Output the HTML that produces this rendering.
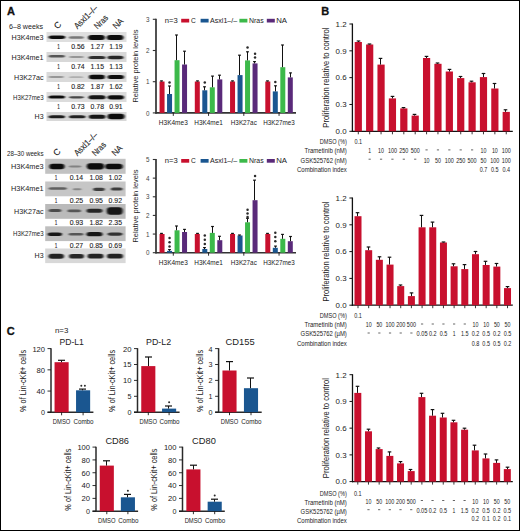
<!DOCTYPE html><html><head><meta charset="utf-8"><style>
html,body{margin:0;padding:0;background:#fff;}
body{width:520px;height:531px;overflow:hidden;}
svg{display:block;font-family:"Liberation Sans", sans-serif;}
</style></head><body>
<svg width="520" height="531" viewBox="0 0 520 531" fill="#222">
<defs>
<filter id="bl" x="-20%" y="-100%" width="140%" height="300%"><feGaussianBlur stdDeviation="0.9 0.7"/></filter>
</defs>
<rect x="0" y="0" width="520" height="531" fill="#fff"/>
<text x="7" y="15.1" font-size="11" font-weight="bold" fill="#111" stroke="#111" stroke-width="0.3">A</text>
<text x="321.2" y="15.1" font-size="11" font-weight="bold" fill="#111" stroke="#111" stroke-width="0.3">B</text>
<text x="6.8" y="334.8" font-size="11" font-weight="bold" fill="#111" stroke="#111" stroke-width="0.3">C</text>
<text x="9" y="28.7" font-size="7.9" textLength="34" lengthAdjust="spacingAndGlyphs">6–8 weeks</text>
<text x="57.6" y="29.6" font-size="8.8" textLength="6.3" lengthAdjust="spacingAndGlyphs" transform="rotate(-45 57.6 29.6)" stroke="#2a2a2a" stroke-width="0.12">C</text>
<text x="77.4" y="29.6" font-size="8.8" textLength="29.6" lengthAdjust="spacingAndGlyphs" transform="rotate(-45 77.4 29.6)" stroke="#2a2a2a" stroke-width="0.12">Asxl1–/–</text>
<text x="97.6" y="29.6" font-size="8.8" textLength="15.8" lengthAdjust="spacingAndGlyphs" transform="rotate(-45 97.6 29.6)" stroke="#2a2a2a" stroke-width="0.12">Nras</text>
<text x="116.2" y="29.6" font-size="8.8" textLength="11.2" lengthAdjust="spacingAndGlyphs" transform="rotate(-45 116.2 29.6)" stroke="#2a2a2a" stroke-width="0.12">NA</text>
<rect x="46.5" y="32" width="80" height="10" fill="#dfdfdf"/>
<text x="43.6" y="39.9" font-size="7.5" text-anchor="end" textLength="32" lengthAdjust="spacingAndGlyphs">H3K4me3</text>
<rect x="48.5" y="35.6" width="16.8" height="3.4" rx="3.5" ry="1.7" fill="rgb(15,15,15)" filter="url(#bl)"/>
<rect x="68.7" y="36.2" width="15.2" height="2.6" rx="3.24" ry="1.3" fill="rgb(120,120,120)" filter="url(#bl)"/>
<rect x="88.1" y="34.9" width="16.8" height="5" rx="3.5" ry="2.5" fill="rgb(8,8,8)" filter="url(#bl)"/>
<rect x="106.7" y="34.9" width="16.8" height="5" rx="3.5" ry="2.5" fill="rgb(8,8,8)" filter="url(#bl)"/>
<text x="58.6" y="49.4" font-size="7.5" text-anchor="middle" textLength="2.6" lengthAdjust="spacingAndGlyphs" stroke="#2a2a2a" stroke-width="0.12">1</text>
<text x="78" y="49.4" font-size="7.5" text-anchor="middle" textLength="13.4" lengthAdjust="spacingAndGlyphs" stroke="#2a2a2a" stroke-width="0.12">0.56</text>
<text x="97.3" y="49.4" font-size="7.5" text-anchor="middle" textLength="13.4" lengthAdjust="spacingAndGlyphs" stroke="#2a2a2a" stroke-width="0.12">1.27</text>
<text x="115.9" y="49.4" font-size="7.5" text-anchor="middle" textLength="13.4" lengthAdjust="spacingAndGlyphs" stroke="#2a2a2a" stroke-width="0.12">1.19</text>
<rect x="46.5" y="52" width="80" height="10" fill="#d8d8d8"/>
<text x="43.6" y="59.9" font-size="7.5" text-anchor="end" textLength="32" lengthAdjust="spacingAndGlyphs">H3K4me1</text>
<rect x="48.5" y="55.1" width="16.5" height="2.4" rx="3.5" ry="1.2" fill="rgb(85,85,85)" filter="url(#bl)"/>
<rect x="69" y="56" width="15" height="2" rx="3.2" ry="1" fill="rgb(150,150,150)" filter="url(#bl)"/>
<rect x="88.5" y="55.9" width="17" height="3" rx="3.5" ry="1.5" fill="rgb(45,45,45)" filter="url(#bl)"/>
<rect x="107.5" y="55.8" width="16" height="3.4" rx="3.4" ry="1.7" fill="rgb(40,40,40)" filter="url(#bl)"/>
<text x="58.6" y="69.4" font-size="7.5" text-anchor="middle" textLength="2.6" lengthAdjust="spacingAndGlyphs" stroke="#2a2a2a" stroke-width="0.12">1</text>
<text x="78" y="69.4" font-size="7.5" text-anchor="middle" textLength="13.4" lengthAdjust="spacingAndGlyphs" stroke="#2a2a2a" stroke-width="0.12">0.74</text>
<text x="97.3" y="69.4" font-size="7.5" text-anchor="middle" textLength="13.4" lengthAdjust="spacingAndGlyphs" stroke="#2a2a2a" stroke-width="0.12">1.15</text>
<text x="115.9" y="69.4" font-size="7.5" text-anchor="middle" textLength="13.4" lengthAdjust="spacingAndGlyphs" stroke="#2a2a2a" stroke-width="0.12">1.13</text>
<rect x="46.5" y="72" width="80" height="10" fill="#dadada"/>
<text x="43.6" y="79.5" font-size="7.5" text-anchor="end" textLength="29.5" lengthAdjust="spacingAndGlyphs">H3K27ac</text>
<rect x="48.5" y="76.1" width="15.5" height="1.8" rx="3.3" ry="0.9" fill="rgb(150,150,150)" filter="url(#bl)"/>
<rect x="69" y="76.3" width="14.5" height="1.8" rx="3.1" ry="0.9" fill="rgb(175,175,175)" filter="url(#bl)"/>
<rect x="88.9" y="74.8" width="16" height="4.4" rx="3.4" ry="2.2" fill="rgb(10,10,10)" filter="url(#bl)"/>
<rect x="107.5" y="75" width="16.5" height="4" rx="3.5" ry="2" fill="rgb(15,15,15)" filter="url(#bl)"/>
<text x="58.6" y="89.4" font-size="7.5" text-anchor="middle" textLength="2.6" lengthAdjust="spacingAndGlyphs" stroke="#2a2a2a" stroke-width="0.12">1</text>
<text x="78" y="89.4" font-size="7.5" text-anchor="middle" textLength="13.4" lengthAdjust="spacingAndGlyphs" stroke="#2a2a2a" stroke-width="0.12">0.82</text>
<text x="97.3" y="89.4" font-size="7.5" text-anchor="middle" textLength="13.4" lengthAdjust="spacingAndGlyphs" stroke="#2a2a2a" stroke-width="0.12">1.87</text>
<text x="115.9" y="89.4" font-size="7.5" text-anchor="middle" textLength="13.4" lengthAdjust="spacingAndGlyphs" stroke="#2a2a2a" stroke-width="0.12">1.62</text>
<rect x="46.5" y="92" width="80" height="10" fill="#dcdcdc"/>
<text x="43.6" y="99.8" font-size="7.5" text-anchor="end" textLength="30.5" lengthAdjust="spacingAndGlyphs">H3K27me3</text>
<rect x="48.5" y="95.5" width="16.5" height="3" rx="3.5" ry="1.5" fill="rgb(15,15,15)" filter="url(#bl)"/>
<rect x="69" y="96.2" width="15" height="2.2" rx="3.2" ry="1.1" fill="rgb(70,70,70)" filter="url(#bl)"/>
<rect x="88.5" y="95.3" width="17" height="4" rx="3.5" ry="2" fill="rgb(20,20,20)" filter="url(#bl)"/>
<rect x="107.5" y="95.2" width="16.5" height="4.2" rx="3.5" ry="2.1" fill="rgb(15,15,15)" filter="url(#bl)"/>
<text x="58.6" y="109.4" font-size="7.5" text-anchor="middle" textLength="2.6" lengthAdjust="spacingAndGlyphs" stroke="#2a2a2a" stroke-width="0.12">1</text>
<text x="78" y="109.4" font-size="7.5" text-anchor="middle" textLength="13.4" lengthAdjust="spacingAndGlyphs" stroke="#2a2a2a" stroke-width="0.12">0.73</text>
<text x="97.3" y="109.4" font-size="7.5" text-anchor="middle" textLength="13.4" lengthAdjust="spacingAndGlyphs" stroke="#2a2a2a" stroke-width="0.12">0.78</text>
<text x="115.9" y="109.4" font-size="7.5" text-anchor="middle" textLength="13.4" lengthAdjust="spacingAndGlyphs" stroke="#2a2a2a" stroke-width="0.12">0.91</text>
<rect x="46.5" y="112" width="80" height="9" fill="#d8d8d8"/>
<text x="43.6" y="118.9" font-size="7.5" text-anchor="end" textLength="9" lengthAdjust="spacingAndGlyphs">H3</text>
<rect x="48.5" y="115.2" width="16.5" height="3" rx="3.5" ry="1.5" fill="rgb(30,30,30)" filter="url(#bl)"/>
<rect x="69" y="115.3" width="16.5" height="3" rx="3.5" ry="1.5" fill="rgb(35,35,35)" filter="url(#bl)"/>
<rect x="88.8" y="114.7" width="16.7" height="4" rx="3.5" ry="2" fill="rgb(20,20,20)" filter="url(#bl)"/>
<rect x="107.5" y="113.7" width="17" height="5.6" rx="3.5" ry="2.8" fill="rgb(10,10,10)" filter="url(#bl)"/>
<text x="7" y="156" font-size="7" textLength="36.5" lengthAdjust="spacingAndGlyphs">28–30 weeks</text>
<text x="56.8" y="156.6" font-size="8.8" textLength="6.3" lengthAdjust="spacingAndGlyphs" transform="rotate(-45 56.8 156.6)" stroke="#2a2a2a" stroke-width="0.12">C</text>
<text x="77.4" y="156.6" font-size="8.8" textLength="29.6" lengthAdjust="spacingAndGlyphs" transform="rotate(-45 77.4 156.6)" stroke="#2a2a2a" stroke-width="0.12">Asxl1–/–</text>
<text x="95.4" y="156.6" font-size="8.8" textLength="15.8" lengthAdjust="spacingAndGlyphs" transform="rotate(-45 95.4 156.6)" stroke="#2a2a2a" stroke-width="0.12">Nras</text>
<text x="115.2" y="156.6" font-size="8.8" textLength="11.2" lengthAdjust="spacingAndGlyphs" transform="rotate(-45 115.2 156.6)" stroke="#2a2a2a" stroke-width="0.12">NA</text>
<rect x="45.2" y="158.8" width="80.4" height="15" fill="#c2c2c2"/>
<text x="43.6" y="168.7" font-size="7.5" text-anchor="end" textLength="32.5" lengthAdjust="spacingAndGlyphs">H3K4me3</text>
<rect x="49.3" y="163.7" width="15.2" height="5.6" rx="3.24" ry="2.8" fill="rgb(10,10,10)" filter="url(#bl)"/>
<rect x="68.7" y="165.6" width="12.8" height="2" rx="2.76" ry="1" fill="rgb(130,130,130)" filter="url(#bl)"/>
<rect x="86.8" y="163.2" width="17.3" height="6.2" rx="3.5" ry="3.1" fill="rgb(8,8,8)" filter="url(#bl)"/>
<rect x="105.1" y="163.8" width="17.6" height="5.4" rx="3.5" ry="2.7" fill="rgb(12,12,12)" filter="url(#bl)"/>
<text x="56" y="180.2" font-size="7.5" text-anchor="middle" textLength="2.6" lengthAdjust="spacingAndGlyphs" stroke="#2a2a2a" stroke-width="0.12">1</text>
<text x="76.4" y="180.2" font-size="7.5" text-anchor="middle" textLength="13.4" lengthAdjust="spacingAndGlyphs" stroke="#2a2a2a" stroke-width="0.12">0.14</text>
<text x="96.2" y="180.2" font-size="7.5" text-anchor="middle" textLength="13.4" lengthAdjust="spacingAndGlyphs" stroke="#2a2a2a" stroke-width="0.12">1.08</text>
<text x="115.3" y="180.2" font-size="7.5" text-anchor="middle" textLength="13.4" lengthAdjust="spacingAndGlyphs" stroke="#2a2a2a" stroke-width="0.12">1.02</text>
<rect x="45.2" y="181.5" width="80.4" height="14.8" fill="#c6c6c6"/>
<text x="43.6" y="191.4" font-size="7.5" text-anchor="end" textLength="32.5" lengthAdjust="spacingAndGlyphs">H3K4me1</text>
<rect x="48.5" y="187.2" width="18.4" height="2.6" rx="3.5" ry="1.3" fill="rgb(95,95,95)" filter="url(#bl)"/>
<rect x="72.8" y="188.2" width="8.7" height="2" rx="1.94" ry="1" fill="rgb(135,135,135)" filter="url(#bl)"/>
<rect x="93" y="187.7" width="11.9" height="3.2" rx="2.58" ry="1.6" fill="rgb(60,60,60)" filter="url(#bl)"/>
<rect x="110.7" y="187.4" width="12" height="3" rx="2.6" ry="1.5" fill="rgb(60,60,60)" filter="url(#bl)"/>
<text x="56" y="202.9" font-size="7.5" text-anchor="middle" textLength="2.6" lengthAdjust="spacingAndGlyphs" stroke="#2a2a2a" stroke-width="0.12">1</text>
<text x="76.4" y="202.9" font-size="7.5" text-anchor="middle" textLength="13.4" lengthAdjust="spacingAndGlyphs" stroke="#2a2a2a" stroke-width="0.12">0.25</text>
<text x="96.2" y="202.9" font-size="7.5" text-anchor="middle" textLength="13.4" lengthAdjust="spacingAndGlyphs" stroke="#2a2a2a" stroke-width="0.12">0.95</text>
<text x="115.3" y="202.9" font-size="7.5" text-anchor="middle" textLength="13.4" lengthAdjust="spacingAndGlyphs" stroke="#2a2a2a" stroke-width="0.12">0.92</text>
<rect x="45.2" y="204" width="80.4" height="14.8" fill="#bababa"/>
<text x="43.6" y="213.9" font-size="7.5" text-anchor="end" textLength="29.5" lengthAdjust="spacingAndGlyphs">H3K27ac</text>
<rect x="48.5" y="209.1" width="13" height="3" rx="2.8" ry="1.5" fill="rgb(75,75,75)" filter="url(#bl)"/>
<rect x="67.3" y="209.5" width="13.8" height="2.8" rx="2.96" ry="1.4" fill="rgb(85,85,85)" filter="url(#bl)"/>
<rect x="86.5" y="208.8" width="16" height="4" rx="3.4" ry="2" fill="rgb(40,40,40)" filter="url(#bl)"/>
<rect x="106.7" y="207.3" width="16" height="7.4" rx="3.4" ry="3.7" fill="rgb(20,20,20)" filter="url(#bl)"/>
<text x="56" y="225.4" font-size="7.5" text-anchor="middle" textLength="2.6" lengthAdjust="spacingAndGlyphs" stroke="#2a2a2a" stroke-width="0.12">1</text>
<text x="76.4" y="225.4" font-size="7.5" text-anchor="middle" textLength="13.4" lengthAdjust="spacingAndGlyphs" stroke="#2a2a2a" stroke-width="0.12">0.93</text>
<text x="96.2" y="225.4" font-size="7.5" text-anchor="middle" textLength="13.4" lengthAdjust="spacingAndGlyphs" stroke="#2a2a2a" stroke-width="0.12">1.82</text>
<text x="115.3" y="225.4" font-size="7.5" text-anchor="middle" textLength="13.4" lengthAdjust="spacingAndGlyphs" stroke="#2a2a2a" stroke-width="0.12">2.35</text>
<rect x="45.2" y="226.3" width="80.4" height="14.8" fill="#bfbfbf"/>
<text x="43.6" y="236.2" font-size="7.5" text-anchor="end" textLength="30.5" lengthAdjust="spacingAndGlyphs">H3K27me3</text>
<rect x="47.7" y="232.5" width="14.3" height="3.6" rx="3.06" ry="1.8" fill="rgb(22,22,22)" filter="url(#bl)"/>
<rect x="68.5" y="233.1" width="15" height="2.4" rx="3.2" ry="1.2" fill="rgb(85,85,85)" filter="url(#bl)"/>
<rect x="86.5" y="232.1" width="16" height="4.2" rx="3.4" ry="2.1" fill="rgb(25,25,25)" filter="url(#bl)"/>
<rect x="107.5" y="232.5" width="15" height="3.2" rx="3.2" ry="1.6" fill="rgb(50,50,50)" filter="url(#bl)"/>
<text x="56" y="247.7" font-size="7.5" text-anchor="middle" textLength="2.6" lengthAdjust="spacingAndGlyphs" stroke="#2a2a2a" stroke-width="0.12">1</text>
<text x="76.4" y="247.7" font-size="7.5" text-anchor="middle" textLength="13.4" lengthAdjust="spacingAndGlyphs" stroke="#2a2a2a" stroke-width="0.12">0.27</text>
<text x="96.2" y="247.7" font-size="7.5" text-anchor="middle" textLength="13.4" lengthAdjust="spacingAndGlyphs" stroke="#2a2a2a" stroke-width="0.12">0.85</text>
<text x="115.3" y="247.7" font-size="7.5" text-anchor="middle" textLength="13.4" lengthAdjust="spacingAndGlyphs" stroke="#2a2a2a" stroke-width="0.12">0.69</text>
<rect x="45.2" y="248.5" width="80.4" height="14.6" fill="#d8d8d8"/>
<text x="43.6" y="258.2" font-size="7.5" text-anchor="end" textLength="9" lengthAdjust="spacingAndGlyphs">H3</text>
<rect x="48.5" y="253.7" width="15.5" height="5" rx="3.3" ry="2.5" fill="rgb(36,36,36)" filter="url(#bl)"/>
<rect x="69" y="253.9" width="15" height="4.6" rx="3.2" ry="2.3" fill="rgb(38,38,38)" filter="url(#bl)"/>
<rect x="87.5" y="253.8" width="16" height="4.8" rx="3.4" ry="2.4" fill="rgb(36,36,36)" filter="url(#bl)"/>
<rect x="107" y="253.8" width="16" height="4.8" rx="3.4" ry="2.4" fill="rgb(36,36,36)" filter="url(#bl)"/>
<line x1="156" y1="18.8" x2="156" y2="113.7" stroke="#333" stroke-width="1.7"/>
<line x1="155.5" y1="112.9" x2="296" y2="112.9" stroke="#333" stroke-width="1.6"/>
<line x1="152.8" y1="112.9" x2="156" y2="112.9" stroke="#333" stroke-width="1.1"/>
<text x="149.6" y="115.6" font-size="7.6" text-anchor="end" textLength="3.5" lengthAdjust="spacingAndGlyphs" fill="#444">0</text>
<line x1="152.8" y1="81.7" x2="156" y2="81.7" stroke="#333" stroke-width="1.1"/>
<text x="149.6" y="84.4" font-size="7.6" text-anchor="end" textLength="3.5" lengthAdjust="spacingAndGlyphs" fill="#444">1</text>
<line x1="152.8" y1="50.5" x2="156" y2="50.5" stroke="#333" stroke-width="1.1"/>
<text x="149.6" y="53.2" font-size="7.6" text-anchor="end" textLength="3.5" lengthAdjust="spacingAndGlyphs" fill="#444">2</text>
<line x1="152.8" y1="19.3" x2="156" y2="19.3" stroke="#333" stroke-width="1.1"/>
<text x="149.6" y="22" font-size="7.6" text-anchor="end" textLength="3.5" lengthAdjust="spacingAndGlyphs" fill="#444">3</text>
<text x="138.4" y="66.1" font-size="7.4" text-anchor="middle" textLength="73" lengthAdjust="spacingAndGlyphs" transform="rotate(-90 138.4 66.1)">Relative protein levels</text>
<line x1="173.3" y1="112.9" x2="173.3" y2="115.9" stroke="#1a1a1a" stroke-width="0.9"/>
<text x="173.3" y="124.9" font-size="7.8" text-anchor="middle" textLength="29" lengthAdjust="spacingAndGlyphs">H3K4me3</text>
<rect x="159.55" y="81.5" width="5" height="31.4" fill="#c8102e"/>
<line x1="161.5" y1="81.5" x2="161.5" y2="80.9" stroke="#111" stroke-width="1"/>
<line x1="160.1" y1="80.9" x2="162.9" y2="80.9" stroke="#111" stroke-width="1.2"/>
<rect x="167.05" y="94" width="5" height="18.9" fill="#1a5690"/>
<line x1="169.5" y1="94" x2="169.5" y2="86" stroke="#111" stroke-width="1"/>
<line x1="168.1" y1="86" x2="170.9" y2="86" stroke="#111" stroke-width="1.2"/>
<circle cx="169.55" cy="82.4" r="1.25" fill="#2a2a2a"/>
<rect x="174.55" y="60.2" width="5" height="52.7" fill="#3cb94a"/>
<line x1="176.5" y1="60.2" x2="176.5" y2="35" stroke="#111" stroke-width="1"/>
<line x1="175.1" y1="35" x2="177.9" y2="35" stroke="#111" stroke-width="1.2"/>
<rect x="182.05" y="64.5" width="5" height="48.4" fill="#5a2a7a"/>
<line x1="184.5" y1="64.5" x2="184.5" y2="51.2" stroke="#111" stroke-width="1"/>
<line x1="183.1" y1="51.2" x2="185.9" y2="51.2" stroke="#111" stroke-width="1.2"/>
<line x1="208.55" y1="112.9" x2="208.55" y2="115.9" stroke="#1a1a1a" stroke-width="0.9"/>
<text x="208.55" y="124.9" font-size="7.8" text-anchor="middle" textLength="28.5" lengthAdjust="spacingAndGlyphs">H3K4me1</text>
<rect x="194.8" y="81.5" width="5" height="31.4" fill="#c8102e"/>
<line x1="197.5" y1="81.5" x2="197.5" y2="80.9" stroke="#111" stroke-width="1"/>
<line x1="196.1" y1="80.9" x2="198.9" y2="80.9" stroke="#111" stroke-width="1.2"/>
<rect x="202.3" y="90.3" width="5" height="22.6" fill="#1a5690"/>
<line x1="204.5" y1="90.3" x2="204.5" y2="86.8" stroke="#111" stroke-width="1"/>
<line x1="203.1" y1="86.8" x2="205.9" y2="86.8" stroke="#111" stroke-width="1.2"/>
<circle cx="204.8" cy="82.4" r="1.25" fill="#2a2a2a"/>
<rect x="209.8" y="87.3" width="5" height="25.6" fill="#3cb94a"/>
<line x1="212.5" y1="87.3" x2="212.5" y2="76.1" stroke="#111" stroke-width="1"/>
<line x1="211.1" y1="76.1" x2="213.9" y2="76.1" stroke="#111" stroke-width="1.2"/>
<rect x="217.3" y="79.4" width="5" height="33.5" fill="#5a2a7a"/>
<line x1="219.5" y1="79.4" x2="219.5" y2="75.2" stroke="#111" stroke-width="1"/>
<line x1="218.1" y1="75.2" x2="220.9" y2="75.2" stroke="#111" stroke-width="1.2"/>
<line x1="243.8" y1="112.9" x2="243.8" y2="115.9" stroke="#1a1a1a" stroke-width="0.9"/>
<text x="243.8" y="124.9" font-size="7.8" text-anchor="middle" textLength="26" lengthAdjust="spacingAndGlyphs">H3K27ac</text>
<rect x="230.05" y="81.5" width="5" height="31.4" fill="#c8102e"/>
<line x1="232.5" y1="81.5" x2="232.5" y2="80.9" stroke="#111" stroke-width="1"/>
<line x1="231.1" y1="80.9" x2="233.9" y2="80.9" stroke="#111" stroke-width="1.2"/>
<rect x="237.55" y="75.1" width="5" height="37.8" fill="#1a5690"/>
<line x1="239.5" y1="75.1" x2="239.5" y2="55.2" stroke="#111" stroke-width="1"/>
<line x1="238.1" y1="55.2" x2="240.9" y2="55.2" stroke="#111" stroke-width="1.2"/>
<rect x="245.05" y="60.4" width="5" height="52.5" fill="#3cb94a"/>
<line x1="247.5" y1="60.4" x2="247.5" y2="51.8" stroke="#111" stroke-width="1"/>
<line x1="246.1" y1="51.8" x2="248.9" y2="51.8" stroke="#111" stroke-width="1.2"/>
<circle cx="247.55" cy="47.4" r="1.25" fill="#2a2a2a"/>
<rect x="252.55" y="63.4" width="5" height="49.5" fill="#5a2a7a"/>
<line x1="254.5" y1="63.4" x2="254.5" y2="61.6" stroke="#111" stroke-width="1"/>
<line x1="253.1" y1="61.6" x2="255.9" y2="61.6" stroke="#111" stroke-width="1.2"/>
<circle cx="255.05" cy="53.8" r="1.25" fill="#2a2a2a"/>
<circle cx="255.05" cy="57.6" r="1.25" fill="#2a2a2a"/>
<line x1="279.05" y1="112.9" x2="279.05" y2="115.9" stroke="#1a1a1a" stroke-width="0.9"/>
<text x="279.05" y="124.9" font-size="7.8" text-anchor="middle" textLength="31.5" lengthAdjust="spacingAndGlyphs">H3K27me3</text>
<rect x="265.3" y="81.5" width="5" height="31.4" fill="#c8102e"/>
<line x1="267.5" y1="81.5" x2="267.5" y2="80.9" stroke="#111" stroke-width="1"/>
<line x1="266.1" y1="80.9" x2="268.9" y2="80.9" stroke="#111" stroke-width="1.2"/>
<rect x="272.8" y="91.4" width="5" height="21.5" fill="#1a5690"/>
<line x1="275.5" y1="91.4" x2="275.5" y2="85.8" stroke="#111" stroke-width="1"/>
<line x1="274.1" y1="85.8" x2="276.9" y2="85.8" stroke="#111" stroke-width="1.2"/>
<circle cx="275.3" cy="82" r="1.25" fill="#2a2a2a"/>
<rect x="280.3" y="67.2" width="5" height="45.7" fill="#3cb94a"/>
<line x1="282.5" y1="67.2" x2="282.5" y2="45" stroke="#111" stroke-width="1"/>
<line x1="281.1" y1="45" x2="283.9" y2="45" stroke="#111" stroke-width="1.2"/>
<rect x="287.8" y="77.4" width="5" height="35.5" fill="#5a2a7a"/>
<line x1="290.5" y1="77.4" x2="290.5" y2="72.9" stroke="#111" stroke-width="1"/>
<line x1="289.1" y1="72.9" x2="291.9" y2="72.9" stroke="#111" stroke-width="1.2"/>
<text x="164.8" y="23" font-size="7.8" textLength="13" lengthAdjust="spacingAndGlyphs">n=3</text>
<rect x="181.2" y="18.8" width="8" height="3.7" fill="#c8102e"/>
<text x="191" y="23" font-size="7.8" textLength="4.8" lengthAdjust="spacingAndGlyphs">C</text>
<rect x="200.6" y="18.8" width="8" height="3.7" fill="#1a5690"/>
<text x="210" y="23" font-size="7.8" textLength="27.2" lengthAdjust="spacingAndGlyphs">Asxl1–/–</text>
<rect x="239.4" y="18.8" width="8" height="3.7" fill="#3cb94a"/>
<text x="249" y="23" font-size="7.8" textLength="14.6" lengthAdjust="spacingAndGlyphs">Nras</text>
<rect x="266.8" y="18.8" width="8" height="3.7" fill="#5a2a7a"/>
<text x="276.2" y="23" font-size="7.8" textLength="10.8" lengthAdjust="spacingAndGlyphs">NA</text>
<line x1="156" y1="159" x2="156" y2="253.5" stroke="#333" stroke-width="1.7"/>
<line x1="155.5" y1="252.7" x2="296" y2="252.7" stroke="#333" stroke-width="1.6"/>
<line x1="152.8" y1="252.7" x2="156" y2="252.7" stroke="#333" stroke-width="1.1"/>
<text x="149.6" y="255.4" font-size="7.6" text-anchor="end" textLength="3.5" lengthAdjust="spacingAndGlyphs" fill="#444">0</text>
<line x1="152.8" y1="234.06" x2="156" y2="234.06" stroke="#333" stroke-width="1.1"/>
<text x="149.6" y="236.76" font-size="7.6" text-anchor="end" textLength="3.5" lengthAdjust="spacingAndGlyphs" fill="#444">1</text>
<line x1="152.8" y1="215.42" x2="156" y2="215.42" stroke="#333" stroke-width="1.1"/>
<text x="149.6" y="218.12" font-size="7.6" text-anchor="end" textLength="3.5" lengthAdjust="spacingAndGlyphs" fill="#444">2</text>
<line x1="152.8" y1="196.78" x2="156" y2="196.78" stroke="#333" stroke-width="1.1"/>
<text x="149.6" y="199.48" font-size="7.6" text-anchor="end" textLength="3.5" lengthAdjust="spacingAndGlyphs" fill="#444">3</text>
<line x1="152.8" y1="178.14" x2="156" y2="178.14" stroke="#333" stroke-width="1.1"/>
<text x="149.6" y="180.84" font-size="7.6" text-anchor="end" textLength="3.5" lengthAdjust="spacingAndGlyphs" fill="#444">4</text>
<line x1="152.8" y1="159.5" x2="156" y2="159.5" stroke="#333" stroke-width="1.1"/>
<text x="149.6" y="162.2" font-size="7.6" text-anchor="end" textLength="3.5" lengthAdjust="spacingAndGlyphs" fill="#444">5</text>
<text x="138.4" y="206.1" font-size="7.4" text-anchor="middle" textLength="73" lengthAdjust="spacingAndGlyphs" transform="rotate(-90 138.4 206.1)">Relative protein levels</text>
<line x1="173.3" y1="252.7" x2="173.3" y2="255.7" stroke="#1a1a1a" stroke-width="0.9"/>
<text x="173.3" y="264.7" font-size="7.8" text-anchor="middle" textLength="29" lengthAdjust="spacingAndGlyphs">H3K4me3</text>
<rect x="159.55" y="234" width="5" height="18.7" fill="#c8102e"/>
<line x1="161.5" y1="234" x2="161.5" y2="233.4" stroke="#111" stroke-width="1"/>
<line x1="160.1" y1="233.4" x2="162.9" y2="233.4" stroke="#111" stroke-width="1.2"/>
<rect x="167.05" y="250.9" width="5" height="1.8" fill="#1a5690"/>
<line x1="169.5" y1="250.9" x2="169.5" y2="249.6" stroke="#111" stroke-width="1"/>
<line x1="168.1" y1="249.6" x2="170.9" y2="249.6" stroke="#111" stroke-width="1.2"/>
<circle cx="169.55" cy="237.9" r="1.25" fill="#2a2a2a"/>
<circle cx="169.55" cy="242.3" r="1.25" fill="#2a2a2a"/>
<circle cx="169.55" cy="246.6" r="1.25" fill="#2a2a2a"/>
<rect x="174.55" y="230.3" width="5" height="22.4" fill="#3cb94a"/>
<line x1="176.5" y1="230.3" x2="176.5" y2="226" stroke="#111" stroke-width="1"/>
<line x1="175.1" y1="226" x2="177.9" y2="226" stroke="#111" stroke-width="1.2"/>
<rect x="182.05" y="232" width="5" height="20.7" fill="#5a2a7a"/>
<line x1="184.5" y1="232" x2="184.5" y2="229.4" stroke="#111" stroke-width="1"/>
<line x1="183.1" y1="229.4" x2="185.9" y2="229.4" stroke="#111" stroke-width="1.2"/>
<line x1="208.55" y1="252.7" x2="208.55" y2="255.7" stroke="#1a1a1a" stroke-width="0.9"/>
<text x="208.55" y="264.7" font-size="7.8" text-anchor="middle" textLength="28.5" lengthAdjust="spacingAndGlyphs">H3K4me1</text>
<rect x="194.8" y="234" width="5" height="18.7" fill="#c8102e"/>
<line x1="197.5" y1="234" x2="197.5" y2="233.4" stroke="#111" stroke-width="1"/>
<line x1="196.1" y1="233.4" x2="198.9" y2="233.4" stroke="#111" stroke-width="1.2"/>
<rect x="202.3" y="249" width="5" height="3.7" fill="#1a5690"/>
<line x1="204.5" y1="249" x2="204.5" y2="247.6" stroke="#111" stroke-width="1"/>
<line x1="203.1" y1="247.6" x2="205.9" y2="247.6" stroke="#111" stroke-width="1.2"/>
<circle cx="204.8" cy="235.4" r="1.25" fill="#2a2a2a"/>
<circle cx="204.8" cy="239.8" r="1.25" fill="#2a2a2a"/>
<circle cx="204.8" cy="244.1" r="1.25" fill="#2a2a2a"/>
<rect x="209.8" y="232.9" width="5" height="19.8" fill="#3cb94a"/>
<line x1="212.5" y1="232.9" x2="212.5" y2="226.5" stroke="#111" stroke-width="1"/>
<line x1="211.1" y1="226.5" x2="213.9" y2="226.5" stroke="#111" stroke-width="1.2"/>
<rect x="217.3" y="240.2" width="5" height="12.5" fill="#5a2a7a"/>
<line x1="219.5" y1="240.2" x2="219.5" y2="236.3" stroke="#111" stroke-width="1"/>
<line x1="218.1" y1="236.3" x2="220.9" y2="236.3" stroke="#111" stroke-width="1.2"/>
<line x1="243.8" y1="252.7" x2="243.8" y2="255.7" stroke="#1a1a1a" stroke-width="0.9"/>
<text x="243.8" y="264.7" font-size="7.8" text-anchor="middle" textLength="26" lengthAdjust="spacingAndGlyphs">H3K27ac</text>
<rect x="230.05" y="234" width="5" height="18.7" fill="#c8102e"/>
<line x1="232.5" y1="234" x2="232.5" y2="233.4" stroke="#111" stroke-width="1"/>
<line x1="231.1" y1="233.4" x2="233.9" y2="233.4" stroke="#111" stroke-width="1.2"/>
<rect x="237.55" y="235.5" width="5" height="17.2" fill="#1a5690"/>
<line x1="239.5" y1="235.5" x2="239.5" y2="235" stroke="#111" stroke-width="1"/>
<line x1="238.1" y1="235" x2="240.9" y2="235" stroke="#111" stroke-width="1.2"/>
<rect x="245.05" y="222.3" width="5" height="30.4" fill="#3cb94a"/>
<line x1="247.5" y1="222.3" x2="247.5" y2="218.3" stroke="#111" stroke-width="1"/>
<line x1="246.1" y1="218.3" x2="248.9" y2="218.3" stroke="#111" stroke-width="1.2"/>
<circle cx="247.55" cy="209.8" r="1.25" fill="#2a2a2a"/>
<circle cx="247.55" cy="213.4" r="1.25" fill="#2a2a2a"/>
<circle cx="247.55" cy="217" r="1.25" fill="#2a2a2a"/>
<rect x="252.55" y="200.2" width="5" height="52.5" fill="#5a2a7a"/>
<line x1="254.5" y1="200.2" x2="254.5" y2="180.2" stroke="#111" stroke-width="1"/>
<line x1="253.1" y1="180.2" x2="255.9" y2="180.2" stroke="#111" stroke-width="1.2"/>
<circle cx="255.05" cy="176.1" r="1.25" fill="#2a2a2a"/>
<line x1="279.05" y1="252.7" x2="279.05" y2="255.7" stroke="#1a1a1a" stroke-width="0.9"/>
<text x="279.05" y="264.7" font-size="7.8" text-anchor="middle" textLength="31.5" lengthAdjust="spacingAndGlyphs">H3K27me3</text>
<rect x="265.3" y="234" width="5" height="18.7" fill="#c8102e"/>
<line x1="267.5" y1="234" x2="267.5" y2="233.4" stroke="#111" stroke-width="1"/>
<line x1="266.1" y1="233.4" x2="268.9" y2="233.4" stroke="#111" stroke-width="1.2"/>
<rect x="272.8" y="247.8" width="5" height="4.9" fill="#1a5690"/>
<line x1="275.5" y1="247.8" x2="275.5" y2="246.1" stroke="#111" stroke-width="1"/>
<line x1="274.1" y1="246.1" x2="276.9" y2="246.1" stroke="#111" stroke-width="1.2"/>
<circle cx="275.3" cy="232.8" r="1.25" fill="#2a2a2a"/>
<circle cx="275.3" cy="237" r="1.25" fill="#2a2a2a"/>
<circle cx="275.3" cy="241.2" r="1.25" fill="#2a2a2a"/>
<rect x="280.3" y="238.8" width="5" height="13.9" fill="#3cb94a"/>
<line x1="282.5" y1="238.8" x2="282.5" y2="234.4" stroke="#111" stroke-width="1"/>
<line x1="281.1" y1="234.4" x2="283.9" y2="234.4" stroke="#111" stroke-width="1.2"/>
<rect x="287.8" y="241.2" width="5" height="11.5" fill="#5a2a7a"/>
<line x1="290.5" y1="241.2" x2="290.5" y2="236.5" stroke="#111" stroke-width="1"/>
<line x1="289.1" y1="236.5" x2="291.9" y2="236.5" stroke="#111" stroke-width="1.2"/>
<text x="164.8" y="163.2" font-size="7.8" textLength="13" lengthAdjust="spacingAndGlyphs">n=3</text>
<rect x="181.2" y="159" width="8" height="3.7" fill="#c8102e"/>
<text x="191" y="163.2" font-size="7.8" textLength="4.8" lengthAdjust="spacingAndGlyphs">C</text>
<rect x="200.6" y="159" width="8" height="3.7" fill="#1a5690"/>
<text x="210" y="163.2" font-size="7.8" textLength="27.2" lengthAdjust="spacingAndGlyphs">Asxl1–/–</text>
<rect x="239.4" y="159" width="8" height="3.7" fill="#3cb94a"/>
<text x="249" y="163.2" font-size="7.8" textLength="14.6" lengthAdjust="spacingAndGlyphs">Nras</text>
<rect x="266.8" y="159" width="8" height="3.7" fill="#5a2a7a"/>
<text x="276.2" y="163.2" font-size="7.8" textLength="10.8" lengthAdjust="spacingAndGlyphs">NA</text>
<line x1="352.4" y1="23.5" x2="352.4" y2="131.9" stroke="#111" stroke-width="1.3"/>
<line x1="351.8" y1="131.3" x2="512.8" y2="131.3" stroke="#111" stroke-width="1.3"/>
<line x1="349.4" y1="131.3" x2="352.4" y2="131.3" stroke="#111" stroke-width="1"/>
<text x="346.6" y="134.1" font-size="7.9" text-anchor="end" textLength="11" lengthAdjust="spacingAndGlyphs">0.0</text>
<line x1="349.4" y1="104.48" x2="352.4" y2="104.48" stroke="#111" stroke-width="1"/>
<text x="346.6" y="107.28" font-size="7.9" text-anchor="end" textLength="11" lengthAdjust="spacingAndGlyphs">0.3</text>
<line x1="349.4" y1="77.65" x2="352.4" y2="77.65" stroke="#111" stroke-width="1"/>
<text x="346.6" y="80.45" font-size="7.9" text-anchor="end" textLength="11" lengthAdjust="spacingAndGlyphs">0.6</text>
<line x1="349.4" y1="50.83" x2="352.4" y2="50.83" stroke="#111" stroke-width="1"/>
<text x="346.6" y="53.62" font-size="7.9" text-anchor="end" textLength="11" lengthAdjust="spacingAndGlyphs">0.9</text>
<line x1="349.4" y1="24" x2="352.4" y2="24" stroke="#111" stroke-width="1"/>
<text x="346.6" y="26.8" font-size="7.9" text-anchor="end" textLength="11" lengthAdjust="spacingAndGlyphs">1.2</text>
<text x="329.3" y="77.65" font-size="9" text-anchor="middle" textLength="100" lengthAdjust="spacingAndGlyphs" transform="rotate(-90 329.3 77.65)">Proliferation relative to control</text>
<line x1="358.3" y1="131.3" x2="358.3" y2="134.3" stroke="#222" stroke-width="0.9"/>
<rect x="354.7" y="42" width="7.2" height="89.3" fill="#c8102e"/>
<line x1="358.5" y1="42" x2="358.5" y2="41" stroke="#111" stroke-width="1"/>
<line x1="356.7" y1="41" x2="360.3" y2="41" stroke="#111" stroke-width="1.2"/>
<line x1="369.68" y1="131.3" x2="369.68" y2="134.3" stroke="#222" stroke-width="0.9"/>
<rect x="366.08" y="44.5" width="7.2" height="86.8" fill="#c8102e"/>
<line x1="369.5" y1="44.5" x2="369.5" y2="44" stroke="#111" stroke-width="1"/>
<line x1="367.7" y1="44" x2="371.3" y2="44" stroke="#111" stroke-width="1.2"/>
<line x1="381.06" y1="131.3" x2="381.06" y2="134.3" stroke="#222" stroke-width="0.9"/>
<rect x="377.46" y="64.6" width="7.2" height="66.7" fill="#c8102e"/>
<line x1="380.5" y1="64.6" x2="380.5" y2="58.4" stroke="#111" stroke-width="1"/>
<line x1="378.7" y1="58.4" x2="382.3" y2="58.4" stroke="#111" stroke-width="1.2"/>
<line x1="392.44" y1="131.3" x2="392.44" y2="134.3" stroke="#222" stroke-width="0.9"/>
<rect x="388.84" y="98.4" width="7.2" height="32.9" fill="#c8102e"/>
<line x1="392.5" y1="98.4" x2="392.5" y2="96.4" stroke="#111" stroke-width="1"/>
<line x1="390.7" y1="96.4" x2="394.3" y2="96.4" stroke="#111" stroke-width="1.2"/>
<line x1="403.82" y1="131.3" x2="403.82" y2="134.3" stroke="#222" stroke-width="0.9"/>
<rect x="400.22" y="108.4" width="7.2" height="22.9" fill="#c8102e"/>
<line x1="403.5" y1="108.4" x2="403.5" y2="107.6" stroke="#111" stroke-width="1"/>
<line x1="401.7" y1="107.6" x2="405.3" y2="107.6" stroke="#111" stroke-width="1.2"/>
<line x1="415.2" y1="131.3" x2="415.2" y2="134.3" stroke="#222" stroke-width="0.9"/>
<rect x="411.6" y="115.6" width="7.2" height="15.7" fill="#c8102e"/>
<line x1="414.5" y1="115.6" x2="414.5" y2="114.4" stroke="#111" stroke-width="1"/>
<line x1="412.7" y1="114.4" x2="416.3" y2="114.4" stroke="#111" stroke-width="1.2"/>
<line x1="426.58" y1="131.3" x2="426.58" y2="134.3" stroke="#222" stroke-width="0.9"/>
<rect x="422.98" y="58" width="7.2" height="73.3" fill="#c8102e"/>
<line x1="426.5" y1="58" x2="426.5" y2="56.4" stroke="#111" stroke-width="1"/>
<line x1="424.7" y1="56.4" x2="428.3" y2="56.4" stroke="#111" stroke-width="1.2"/>
<line x1="437.96" y1="131.3" x2="437.96" y2="134.3" stroke="#222" stroke-width="0.9"/>
<rect x="434.36" y="63.8" width="7.2" height="67.5" fill="#c8102e"/>
<line x1="437.5" y1="63.8" x2="437.5" y2="63" stroke="#111" stroke-width="1"/>
<line x1="435.7" y1="63" x2="439.3" y2="63" stroke="#111" stroke-width="1.2"/>
<line x1="449.34" y1="131.3" x2="449.34" y2="134.3" stroke="#222" stroke-width="0.9"/>
<rect x="445.74" y="71.5" width="7.2" height="59.8" fill="#c8102e"/>
<line x1="449.5" y1="71.5" x2="449.5" y2="69.4" stroke="#111" stroke-width="1"/>
<line x1="447.7" y1="69.4" x2="451.3" y2="69.4" stroke="#111" stroke-width="1.2"/>
<line x1="460.72" y1="131.3" x2="460.72" y2="134.3" stroke="#222" stroke-width="0.9"/>
<rect x="457.12" y="78.1" width="7.2" height="53.2" fill="#c8102e"/>
<line x1="460.5" y1="78.1" x2="460.5" y2="76.5" stroke="#111" stroke-width="1"/>
<line x1="458.7" y1="76.5" x2="462.3" y2="76.5" stroke="#111" stroke-width="1.2"/>
<line x1="472.1" y1="131.3" x2="472.1" y2="134.3" stroke="#222" stroke-width="0.9"/>
<rect x="468.5" y="82.3" width="7.2" height="49" fill="#c8102e"/>
<line x1="471.5" y1="82.3" x2="471.5" y2="81.2" stroke="#111" stroke-width="1"/>
<line x1="469.7" y1="81.2" x2="473.3" y2="81.2" stroke="#111" stroke-width="1.2"/>
<line x1="483.48" y1="131.3" x2="483.48" y2="134.3" stroke="#222" stroke-width="0.9"/>
<rect x="479.88" y="77.1" width="7.2" height="54.2" fill="#c8102e"/>
<line x1="483.5" y1="77.1" x2="483.5" y2="73.5" stroke="#111" stroke-width="1"/>
<line x1="481.7" y1="73.5" x2="485.3" y2="73.5" stroke="#111" stroke-width="1.2"/>
<line x1="494.86" y1="131.3" x2="494.86" y2="134.3" stroke="#222" stroke-width="0.9"/>
<rect x="491.26" y="88.5" width="7.2" height="42.8" fill="#c8102e"/>
<line x1="494.5" y1="88.5" x2="494.5" y2="83.5" stroke="#111" stroke-width="1"/>
<line x1="492.7" y1="83.5" x2="496.3" y2="83.5" stroke="#111" stroke-width="1.2"/>
<line x1="506.24" y1="131.3" x2="506.24" y2="134.3" stroke="#222" stroke-width="0.9"/>
<rect x="502.64" y="111.9" width="7.2" height="19.4" fill="#c8102e"/>
<line x1="505.5" y1="111.9" x2="505.5" y2="109.8" stroke="#111" stroke-width="1"/>
<line x1="503.7" y1="109.8" x2="507.3" y2="109.8" stroke="#111" stroke-width="1.2"/>
<text x="346.8" y="143.8" font-size="7.4" text-anchor="end" textLength="27" lengthAdjust="spacingAndGlyphs">DMSO (%)</text>
<text x="358.3" y="143.8" font-size="8.1" text-anchor="middle" textLength="7.6" lengthAdjust="spacingAndGlyphs">0.1</text>
<text x="346.8" y="153.3" font-size="7.4" text-anchor="end" textLength="42.3" lengthAdjust="spacingAndGlyphs">Trametinib (nM)</text>
<text x="369.68" y="153.3" font-size="8.1" text-anchor="middle" textLength="2.8" lengthAdjust="spacingAndGlyphs">1</text>
<text x="381.06" y="153.3" font-size="8.1" text-anchor="middle" textLength="5.9" lengthAdjust="spacingAndGlyphs">10</text>
<text x="392.44" y="153.3" font-size="8.1" text-anchor="middle" textLength="9.1" lengthAdjust="spacingAndGlyphs">100</text>
<text x="403.82" y="153.3" font-size="8.1" text-anchor="middle" textLength="9.1" lengthAdjust="spacingAndGlyphs">250</text>
<text x="415.2" y="153.3" font-size="8.1" text-anchor="middle" textLength="9.1" lengthAdjust="spacingAndGlyphs">500</text>
<line x1="425.48" y1="149.9" x2="427.68" y2="149.9" stroke="#555" stroke-width="0.9"/>
<line x1="436.86" y1="149.9" x2="439.06" y2="149.9" stroke="#555" stroke-width="0.9"/>
<line x1="448.24" y1="149.9" x2="450.44" y2="149.9" stroke="#555" stroke-width="0.9"/>
<line x1="459.62" y1="149.9" x2="461.82" y2="149.9" stroke="#555" stroke-width="0.9"/>
<line x1="471" y1="149.9" x2="473.2" y2="149.9" stroke="#555" stroke-width="0.9"/>
<text x="483.48" y="153.3" font-size="8.1" text-anchor="middle" textLength="5.9" lengthAdjust="spacingAndGlyphs">10</text>
<text x="494.86" y="153.3" font-size="8.1" text-anchor="middle" textLength="5.9" lengthAdjust="spacingAndGlyphs">10</text>
<text x="506.24" y="153.3" font-size="8.1" text-anchor="middle" textLength="9.1" lengthAdjust="spacingAndGlyphs">100</text>
<text x="346.8" y="162.6" font-size="7.4" text-anchor="end" textLength="46.2" lengthAdjust="spacingAndGlyphs">GSK525762 (nM)</text>
<line x1="368.58" y1="159.2" x2="370.78" y2="159.2" stroke="#555" stroke-width="0.9"/>
<line x1="379.96" y1="159.2" x2="382.16" y2="159.2" stroke="#555" stroke-width="0.9"/>
<line x1="391.34" y1="159.2" x2="393.54" y2="159.2" stroke="#555" stroke-width="0.9"/>
<line x1="402.72" y1="159.2" x2="404.92" y2="159.2" stroke="#555" stroke-width="0.9"/>
<line x1="414.1" y1="159.2" x2="416.3" y2="159.2" stroke="#555" stroke-width="0.9"/>
<text x="426.58" y="162.6" font-size="8.1" text-anchor="middle" textLength="5.9" lengthAdjust="spacingAndGlyphs">10</text>
<text x="437.96" y="162.6" font-size="8.1" text-anchor="middle" textLength="5.9" lengthAdjust="spacingAndGlyphs">50</text>
<text x="449.34" y="162.6" font-size="8.1" text-anchor="middle" textLength="9.1" lengthAdjust="spacingAndGlyphs">100</text>
<text x="460.72" y="162.6" font-size="8.1" text-anchor="middle" textLength="9.1" lengthAdjust="spacingAndGlyphs">250</text>
<text x="472.1" y="162.6" font-size="8.1" text-anchor="middle" textLength="9.1" lengthAdjust="spacingAndGlyphs">500</text>
<text x="483.48" y="162.6" font-size="8.1" text-anchor="middle" textLength="5.9" lengthAdjust="spacingAndGlyphs">50</text>
<text x="494.86" y="162.6" font-size="8.1" text-anchor="middle" textLength="9.1" lengthAdjust="spacingAndGlyphs">100</text>
<text x="506.24" y="162.6" font-size="8.1" text-anchor="middle" textLength="9.1" lengthAdjust="spacingAndGlyphs">100</text>
<text x="346.8" y="171.6" font-size="7.4" text-anchor="end" textLength="49.8" lengthAdjust="spacingAndGlyphs">Combination index</text>
<text x="483.48" y="171.6" font-size="8.1" text-anchor="middle" textLength="7.6" lengthAdjust="spacingAndGlyphs">0.7</text>
<text x="494.86" y="171.6" font-size="8.1" text-anchor="middle" textLength="7.6" lengthAdjust="spacingAndGlyphs">0.5</text>
<text x="506.24" y="171.6" font-size="8.1" text-anchor="middle" textLength="7.6" lengthAdjust="spacingAndGlyphs">0.4</text>
<line x1="352.4" y1="197.5" x2="352.4" y2="305.8" stroke="#111" stroke-width="1.3"/>
<line x1="351.8" y1="305.2" x2="512.8" y2="305.2" stroke="#111" stroke-width="1.3"/>
<line x1="349.4" y1="305.2" x2="352.4" y2="305.2" stroke="#111" stroke-width="1"/>
<text x="346.6" y="308" font-size="7.9" text-anchor="end" textLength="11" lengthAdjust="spacingAndGlyphs">0.0</text>
<line x1="349.4" y1="278.4" x2="352.4" y2="278.4" stroke="#111" stroke-width="1"/>
<text x="346.6" y="281.2" font-size="7.9" text-anchor="end" textLength="11" lengthAdjust="spacingAndGlyphs">0.3</text>
<line x1="349.4" y1="251.6" x2="352.4" y2="251.6" stroke="#111" stroke-width="1"/>
<text x="346.6" y="254.4" font-size="7.9" text-anchor="end" textLength="11" lengthAdjust="spacingAndGlyphs">0.6</text>
<line x1="349.4" y1="224.8" x2="352.4" y2="224.8" stroke="#111" stroke-width="1"/>
<text x="346.6" y="227.6" font-size="7.9" text-anchor="end" textLength="11" lengthAdjust="spacingAndGlyphs">0.9</text>
<line x1="349.4" y1="198" x2="352.4" y2="198" stroke="#111" stroke-width="1"/>
<text x="346.6" y="200.8" font-size="7.9" text-anchor="end" textLength="11" lengthAdjust="spacingAndGlyphs">1.2</text>
<text x="329.3" y="251.6" font-size="9" text-anchor="middle" textLength="100" lengthAdjust="spacingAndGlyphs" transform="rotate(-90 329.3 251.6)">Proliferation relative to control</text>
<line x1="358" y1="305.2" x2="358" y2="308.2" stroke="#222" stroke-width="0.9"/>
<rect x="354.5" y="216.2" width="7" height="89" fill="#c8102e"/>
<line x1="357.5" y1="216.2" x2="357.5" y2="212.7" stroke="#111" stroke-width="1"/>
<line x1="355.7" y1="212.7" x2="359.3" y2="212.7" stroke="#111" stroke-width="1.2"/>
<line x1="368.68" y1="305.2" x2="368.68" y2="308.2" stroke="#222" stroke-width="0.9"/>
<rect x="365.18" y="250.2" width="7" height="55" fill="#c8102e"/>
<line x1="368.5" y1="250.2" x2="368.5" y2="247" stroke="#111" stroke-width="1"/>
<line x1="366.7" y1="247" x2="370.3" y2="247" stroke="#111" stroke-width="1.2"/>
<line x1="379.36" y1="305.2" x2="379.36" y2="308.2" stroke="#222" stroke-width="0.9"/>
<rect x="375.86" y="259.8" width="7" height="45.4" fill="#c8102e"/>
<line x1="379.5" y1="259.8" x2="379.5" y2="256.8" stroke="#111" stroke-width="1"/>
<line x1="377.7" y1="256.8" x2="381.3" y2="256.8" stroke="#111" stroke-width="1.2"/>
<line x1="390.04" y1="305.2" x2="390.04" y2="308.2" stroke="#222" stroke-width="0.9"/>
<rect x="386.54" y="264.6" width="7" height="40.6" fill="#c8102e"/>
<line x1="389.5" y1="264.6" x2="389.5" y2="257.2" stroke="#111" stroke-width="1"/>
<line x1="387.7" y1="257.2" x2="391.3" y2="257.2" stroke="#111" stroke-width="1.2"/>
<line x1="400.72" y1="305.2" x2="400.72" y2="308.2" stroke="#222" stroke-width="0.9"/>
<rect x="397.22" y="286.1" width="7" height="19.1" fill="#c8102e"/>
<line x1="400.5" y1="286.1" x2="400.5" y2="285" stroke="#111" stroke-width="1"/>
<line x1="398.7" y1="285" x2="402.3" y2="285" stroke="#111" stroke-width="1.2"/>
<line x1="411.4" y1="305.2" x2="411.4" y2="308.2" stroke="#222" stroke-width="0.9"/>
<rect x="407.9" y="296.1" width="7" height="9.1" fill="#c8102e"/>
<line x1="411.5" y1="296.1" x2="411.5" y2="292.9" stroke="#111" stroke-width="1"/>
<line x1="409.7" y1="292.9" x2="413.3" y2="292.9" stroke="#111" stroke-width="1.2"/>
<line x1="422.08" y1="305.2" x2="422.08" y2="308.2" stroke="#222" stroke-width="0.9"/>
<rect x="418.58" y="227.3" width="7" height="77.9" fill="#c8102e"/>
<line x1="421.5" y1="227.3" x2="421.5" y2="215.4" stroke="#111" stroke-width="1"/>
<line x1="419.7" y1="215.4" x2="423.3" y2="215.4" stroke="#111" stroke-width="1.2"/>
<line x1="432.76" y1="305.2" x2="432.76" y2="308.2" stroke="#222" stroke-width="0.9"/>
<rect x="429.26" y="227.3" width="7" height="77.9" fill="#c8102e"/>
<line x1="432.5" y1="227.3" x2="432.5" y2="222.1" stroke="#111" stroke-width="1"/>
<line x1="430.7" y1="222.1" x2="434.3" y2="222.1" stroke="#111" stroke-width="1.2"/>
<line x1="443.44" y1="305.2" x2="443.44" y2="308.2" stroke="#222" stroke-width="0.9"/>
<rect x="439.94" y="242.5" width="7" height="62.7" fill="#c8102e"/>
<line x1="443.5" y1="242.5" x2="443.5" y2="242" stroke="#111" stroke-width="1"/>
<line x1="441.7" y1="242" x2="445.3" y2="242" stroke="#111" stroke-width="1.2"/>
<line x1="454.12" y1="305.2" x2="454.12" y2="308.2" stroke="#222" stroke-width="0.9"/>
<rect x="450.62" y="266.3" width="7" height="38.9" fill="#c8102e"/>
<line x1="453.5" y1="266.3" x2="453.5" y2="263.8" stroke="#111" stroke-width="1"/>
<line x1="451.7" y1="263.8" x2="455.3" y2="263.8" stroke="#111" stroke-width="1.2"/>
<line x1="464.8" y1="305.2" x2="464.8" y2="308.2" stroke="#222" stroke-width="0.9"/>
<rect x="461.3" y="269.1" width="7" height="36.1" fill="#c8102e"/>
<line x1="464.5" y1="269.1" x2="464.5" y2="264.6" stroke="#111" stroke-width="1"/>
<line x1="462.7" y1="264.6" x2="466.3" y2="264.6" stroke="#111" stroke-width="1.2"/>
<line x1="475.48" y1="305.2" x2="475.48" y2="308.2" stroke="#222" stroke-width="0.9"/>
<rect x="471.98" y="254.2" width="7" height="51" fill="#c8102e"/>
<line x1="475.5" y1="254.2" x2="475.5" y2="251.5" stroke="#111" stroke-width="1"/>
<line x1="473.7" y1="251.5" x2="477.3" y2="251.5" stroke="#111" stroke-width="1.2"/>
<line x1="486.16" y1="305.2" x2="486.16" y2="308.2" stroke="#222" stroke-width="0.9"/>
<rect x="482.66" y="265" width="7" height="40.2" fill="#c8102e"/>
<line x1="485.5" y1="265" x2="485.5" y2="261.3" stroke="#111" stroke-width="1"/>
<line x1="483.7" y1="261.3" x2="487.3" y2="261.3" stroke="#111" stroke-width="1.2"/>
<line x1="496.84" y1="305.2" x2="496.84" y2="308.2" stroke="#222" stroke-width="0.9"/>
<rect x="493.34" y="266.6" width="7" height="38.6" fill="#c8102e"/>
<line x1="496.5" y1="266.6" x2="496.5" y2="263.5" stroke="#111" stroke-width="1"/>
<line x1="494.7" y1="263.5" x2="498.3" y2="263.5" stroke="#111" stroke-width="1.2"/>
<line x1="507.52" y1="305.2" x2="507.52" y2="308.2" stroke="#222" stroke-width="0.9"/>
<rect x="504.02" y="288.1" width="7" height="17.1" fill="#c8102e"/>
<line x1="507.5" y1="288.1" x2="507.5" y2="286.6" stroke="#111" stroke-width="1"/>
<line x1="505.7" y1="286.6" x2="509.3" y2="286.6" stroke="#111" stroke-width="1.2"/>
<text x="346.8" y="318" font-size="7.4" text-anchor="end" textLength="27" lengthAdjust="spacingAndGlyphs">DMSO (%)</text>
<text x="358" y="318" font-size="8.1" text-anchor="middle" textLength="7.6" lengthAdjust="spacingAndGlyphs">0.1</text>
<text x="346.8" y="327.4" font-size="7.4" text-anchor="end" textLength="42.3" lengthAdjust="spacingAndGlyphs">Trametinib (nM)</text>
<text x="368.68" y="327.4" font-size="8.1" text-anchor="middle" textLength="5.9" lengthAdjust="spacingAndGlyphs">10</text>
<text x="379.36" y="327.4" font-size="8.1" text-anchor="middle" textLength="5.9" lengthAdjust="spacingAndGlyphs">50</text>
<text x="390.04" y="327.4" font-size="8.1" text-anchor="middle" textLength="9.1" lengthAdjust="spacingAndGlyphs">100</text>
<text x="400.72" y="327.4" font-size="8.1" text-anchor="middle" textLength="9.1" lengthAdjust="spacingAndGlyphs">200</text>
<text x="411.4" y="327.4" font-size="8.1" text-anchor="middle" textLength="9.1" lengthAdjust="spacingAndGlyphs">500</text>
<line x1="420.98" y1="324" x2="423.18" y2="324" stroke="#555" stroke-width="0.9"/>
<line x1="431.66" y1="324" x2="433.86" y2="324" stroke="#555" stroke-width="0.9"/>
<line x1="442.34" y1="324" x2="444.54" y2="324" stroke="#555" stroke-width="0.9"/>
<line x1="453.02" y1="324" x2="455.22" y2="324" stroke="#555" stroke-width="0.9"/>
<line x1="463.7" y1="324" x2="465.9" y2="324" stroke="#555" stroke-width="0.9"/>
<text x="475.48" y="327.4" font-size="8.1" text-anchor="middle" textLength="5.9" lengthAdjust="spacingAndGlyphs">10</text>
<text x="486.16" y="327.4" font-size="8.1" text-anchor="middle" textLength="5.9" lengthAdjust="spacingAndGlyphs">10</text>
<text x="496.84" y="327.4" font-size="8.1" text-anchor="middle" textLength="5.9" lengthAdjust="spacingAndGlyphs">50</text>
<text x="507.52" y="327.4" font-size="8.1" text-anchor="middle" textLength="5.9" lengthAdjust="spacingAndGlyphs">50</text>
<text x="346.8" y="336.4" font-size="7.4" text-anchor="end" textLength="46.2" lengthAdjust="spacingAndGlyphs">GSK525762 (µM)</text>
<line x1="367.58" y1="333" x2="369.78" y2="333" stroke="#555" stroke-width="0.9"/>
<line x1="378.26" y1="333" x2="380.46" y2="333" stroke="#555" stroke-width="0.9"/>
<line x1="388.94" y1="333" x2="391.14" y2="333" stroke="#555" stroke-width="0.9"/>
<line x1="399.62" y1="333" x2="401.82" y2="333" stroke="#555" stroke-width="0.9"/>
<line x1="410.3" y1="333" x2="412.5" y2="333" stroke="#555" stroke-width="0.9"/>
<text x="422.08" y="336.4" font-size="8.1" text-anchor="middle" textLength="11" lengthAdjust="spacingAndGlyphs">0.05</text>
<text x="432.76" y="336.4" font-size="8.1" text-anchor="middle" textLength="7.6" lengthAdjust="spacingAndGlyphs">0.2</text>
<text x="443.44" y="336.4" font-size="8.1" text-anchor="middle" textLength="7.6" lengthAdjust="spacingAndGlyphs">0.5</text>
<text x="454.12" y="336.4" font-size="8.1" text-anchor="middle" textLength="2.8" lengthAdjust="spacingAndGlyphs">1</text>
<text x="464.8" y="336.4" font-size="8.1" text-anchor="middle" textLength="7.6" lengthAdjust="spacingAndGlyphs">1.5</text>
<text x="475.48" y="336.4" font-size="8.1" text-anchor="middle" textLength="7.6" lengthAdjust="spacingAndGlyphs">0.2</text>
<text x="486.16" y="336.4" font-size="8.1" text-anchor="middle" textLength="7.6" lengthAdjust="spacingAndGlyphs">0.5</text>
<text x="496.84" y="336.4" font-size="8.1" text-anchor="middle" textLength="7.6" lengthAdjust="spacingAndGlyphs">0.2</text>
<text x="507.52" y="336.4" font-size="8.1" text-anchor="middle" textLength="7.6" lengthAdjust="spacingAndGlyphs">0.5</text>
<text x="346.8" y="345.9" font-size="7.4" text-anchor="end" textLength="49.8" lengthAdjust="spacingAndGlyphs">Combination index</text>
<text x="475.48" y="345.9" font-size="8.1" text-anchor="middle" textLength="7.6" lengthAdjust="spacingAndGlyphs">0.8</text>
<text x="486.16" y="345.9" font-size="8.1" text-anchor="middle" textLength="7.6" lengthAdjust="spacingAndGlyphs">0.5</text>
<text x="496.84" y="345.9" font-size="8.1" text-anchor="middle" textLength="7.6" lengthAdjust="spacingAndGlyphs">0.5</text>
<text x="507.52" y="345.9" font-size="8.1" text-anchor="middle" textLength="7.6" lengthAdjust="spacingAndGlyphs">0.2</text>
<line x1="352.5" y1="374.2" x2="352.5" y2="482.2" stroke="#111" stroke-width="1.3"/>
<line x1="351.9" y1="481.6" x2="512.8" y2="481.6" stroke="#111" stroke-width="1.3"/>
<line x1="349.5" y1="481.6" x2="352.5" y2="481.6" stroke="#111" stroke-width="1"/>
<text x="346.6" y="484.4" font-size="7.9" text-anchor="end" textLength="11" lengthAdjust="spacingAndGlyphs">0.0</text>
<line x1="349.5" y1="454.88" x2="352.5" y2="454.88" stroke="#111" stroke-width="1"/>
<text x="346.6" y="457.68" font-size="7.9" text-anchor="end" textLength="11" lengthAdjust="spacingAndGlyphs">0.3</text>
<line x1="349.5" y1="428.15" x2="352.5" y2="428.15" stroke="#111" stroke-width="1"/>
<text x="346.6" y="430.95" font-size="7.9" text-anchor="end" textLength="11" lengthAdjust="spacingAndGlyphs">0.6</text>
<line x1="349.5" y1="401.43" x2="352.5" y2="401.43" stroke="#111" stroke-width="1"/>
<text x="346.6" y="404.23" font-size="7.9" text-anchor="end" textLength="11" lengthAdjust="spacingAndGlyphs">0.9</text>
<line x1="349.5" y1="374.7" x2="352.5" y2="374.7" stroke="#111" stroke-width="1"/>
<text x="346.6" y="377.5" font-size="7.9" text-anchor="end" textLength="11" lengthAdjust="spacingAndGlyphs">1.2</text>
<text x="329.3" y="428.15" font-size="9" text-anchor="middle" textLength="100" lengthAdjust="spacingAndGlyphs" transform="rotate(-90 329.3 428.15)">Proliferation relative to control</text>
<line x1="357.8" y1="481.6" x2="357.8" y2="484.6" stroke="#222" stroke-width="0.9"/>
<rect x="354.3" y="392.9" width="7" height="88.7" fill="#c8102e"/>
<line x1="357.5" y1="392.9" x2="357.5" y2="386.3" stroke="#111" stroke-width="1"/>
<line x1="355.7" y1="386.3" x2="359.3" y2="386.3" stroke="#111" stroke-width="1.2"/>
<line x1="368.48" y1="481.6" x2="368.48" y2="484.6" stroke="#222" stroke-width="0.9"/>
<rect x="364.98" y="431.3" width="7" height="50.3" fill="#c8102e"/>
<line x1="368.5" y1="431.3" x2="368.5" y2="429.2" stroke="#111" stroke-width="1"/>
<line x1="366.7" y1="429.2" x2="370.3" y2="429.2" stroke="#111" stroke-width="1.2"/>
<line x1="379.16" y1="481.6" x2="379.16" y2="484.6" stroke="#222" stroke-width="0.9"/>
<rect x="375.66" y="449.1" width="7" height="32.5" fill="#c8102e"/>
<line x1="378.5" y1="449.1" x2="378.5" y2="448" stroke="#111" stroke-width="1"/>
<line x1="376.7" y1="448" x2="380.3" y2="448" stroke="#111" stroke-width="1.2"/>
<line x1="389.84" y1="481.6" x2="389.84" y2="484.6" stroke="#222" stroke-width="0.9"/>
<rect x="386.34" y="455.9" width="7" height="25.7" fill="#c8102e"/>
<line x1="389.5" y1="455.9" x2="389.5" y2="451.9" stroke="#111" stroke-width="1"/>
<line x1="387.7" y1="451.9" x2="391.3" y2="451.9" stroke="#111" stroke-width="1.2"/>
<line x1="400.52" y1="481.6" x2="400.52" y2="484.6" stroke="#222" stroke-width="0.9"/>
<rect x="397.02" y="463.4" width="7" height="18.2" fill="#c8102e"/>
<line x1="400.5" y1="463.4" x2="400.5" y2="461.6" stroke="#111" stroke-width="1"/>
<line x1="398.7" y1="461.6" x2="402.3" y2="461.6" stroke="#111" stroke-width="1.2"/>
<line x1="411.2" y1="481.6" x2="411.2" y2="484.6" stroke="#222" stroke-width="0.9"/>
<rect x="407.7" y="471.1" width="7" height="10.5" fill="#c8102e"/>
<line x1="410.5" y1="471.1" x2="410.5" y2="469.5" stroke="#111" stroke-width="1"/>
<line x1="408.7" y1="469.5" x2="412.3" y2="469.5" stroke="#111" stroke-width="1.2"/>
<line x1="421.88" y1="481.6" x2="421.88" y2="484.6" stroke="#222" stroke-width="0.9"/>
<rect x="418.38" y="397.1" width="7" height="84.5" fill="#c8102e"/>
<line x1="421.5" y1="397.1" x2="421.5" y2="393.3" stroke="#111" stroke-width="1"/>
<line x1="419.7" y1="393.3" x2="423.3" y2="393.3" stroke="#111" stroke-width="1.2"/>
<line x1="432.56" y1="481.6" x2="432.56" y2="484.6" stroke="#222" stroke-width="0.9"/>
<rect x="429.06" y="415.7" width="7" height="65.9" fill="#c8102e"/>
<line x1="432.5" y1="415.7" x2="432.5" y2="409.6" stroke="#111" stroke-width="1"/>
<line x1="430.7" y1="409.6" x2="434.3" y2="409.6" stroke="#111" stroke-width="1.2"/>
<line x1="443.24" y1="481.6" x2="443.24" y2="484.6" stroke="#222" stroke-width="0.9"/>
<rect x="439.74" y="417.5" width="7" height="64.1" fill="#c8102e"/>
<line x1="442.5" y1="417.5" x2="442.5" y2="413.3" stroke="#111" stroke-width="1"/>
<line x1="440.7" y1="413.3" x2="444.3" y2="413.3" stroke="#111" stroke-width="1.2"/>
<line x1="453.92" y1="481.6" x2="453.92" y2="484.6" stroke="#222" stroke-width="0.9"/>
<rect x="450.42" y="422.3" width="7" height="59.3" fill="#c8102e"/>
<line x1="453.5" y1="422.3" x2="453.5" y2="420.3" stroke="#111" stroke-width="1"/>
<line x1="451.7" y1="420.3" x2="455.3" y2="420.3" stroke="#111" stroke-width="1.2"/>
<line x1="464.6" y1="481.6" x2="464.6" y2="484.6" stroke="#222" stroke-width="0.9"/>
<rect x="461.1" y="429.7" width="7" height="51.9" fill="#c8102e"/>
<line x1="464.5" y1="429.7" x2="464.5" y2="428.2" stroke="#111" stroke-width="1"/>
<line x1="462.7" y1="428.2" x2="466.3" y2="428.2" stroke="#111" stroke-width="1.2"/>
<line x1="475.28" y1="481.6" x2="475.28" y2="484.6" stroke="#222" stroke-width="0.9"/>
<rect x="471.78" y="450.4" width="7" height="31.2" fill="#c8102e"/>
<line x1="474.5" y1="450.4" x2="474.5" y2="445.2" stroke="#111" stroke-width="1"/>
<line x1="472.7" y1="445.2" x2="476.3" y2="445.2" stroke="#111" stroke-width="1.2"/>
<line x1="485.96" y1="481.6" x2="485.96" y2="484.6" stroke="#222" stroke-width="0.9"/>
<rect x="482.46" y="458.4" width="7" height="23.2" fill="#c8102e"/>
<line x1="485.5" y1="458.4" x2="485.5" y2="454" stroke="#111" stroke-width="1"/>
<line x1="483.7" y1="454" x2="487.3" y2="454" stroke="#111" stroke-width="1.2"/>
<line x1="496.64" y1="481.6" x2="496.64" y2="484.6" stroke="#222" stroke-width="0.9"/>
<rect x="493.14" y="462.9" width="7" height="18.7" fill="#c8102e"/>
<line x1="496.5" y1="462.9" x2="496.5" y2="459.9" stroke="#111" stroke-width="1"/>
<line x1="494.7" y1="459.9" x2="498.3" y2="459.9" stroke="#111" stroke-width="1.2"/>
<line x1="507.32" y1="481.6" x2="507.32" y2="484.6" stroke="#222" stroke-width="0.9"/>
<rect x="503.82" y="469.1" width="7" height="12.5" fill="#c8102e"/>
<line x1="507.5" y1="469.1" x2="507.5" y2="467.2" stroke="#111" stroke-width="1"/>
<line x1="505.7" y1="467.2" x2="509.3" y2="467.2" stroke="#111" stroke-width="1.2"/>
<text x="346.8" y="496.4" font-size="7.4" text-anchor="end" textLength="27" lengthAdjust="spacingAndGlyphs">DMSO (%)</text>
<text x="357.8" y="496.2" font-size="8.1" text-anchor="middle" textLength="7.6" lengthAdjust="spacingAndGlyphs">0.1</text>
<text x="346.8" y="505.3" font-size="7.4" text-anchor="end" textLength="42.3" lengthAdjust="spacingAndGlyphs">Trametinib (nM)</text>
<text x="368.48" y="503.9" font-size="8.1" text-anchor="middle" textLength="5.9" lengthAdjust="spacingAndGlyphs">10</text>
<text x="379.16" y="503.9" font-size="8.1" text-anchor="middle" textLength="5.9" lengthAdjust="spacingAndGlyphs">50</text>
<text x="389.84" y="503.9" font-size="8.1" text-anchor="middle" textLength="9.1" lengthAdjust="spacingAndGlyphs">100</text>
<text x="400.52" y="503.9" font-size="8.1" text-anchor="middle" textLength="9.1" lengthAdjust="spacingAndGlyphs">200</text>
<text x="411.2" y="503.9" font-size="8.1" text-anchor="middle" textLength="9.1" lengthAdjust="spacingAndGlyphs">500</text>
<line x1="420.78" y1="500.5" x2="422.98" y2="500.5" stroke="#555" stroke-width="0.9"/>
<line x1="431.46" y1="500.5" x2="433.66" y2="500.5" stroke="#555" stroke-width="0.9"/>
<line x1="442.14" y1="500.5" x2="444.34" y2="500.5" stroke="#555" stroke-width="0.9"/>
<line x1="452.82" y1="500.5" x2="455.02" y2="500.5" stroke="#555" stroke-width="0.9"/>
<line x1="463.5" y1="500.5" x2="465.7" y2="500.5" stroke="#555" stroke-width="0.9"/>
<text x="475.28" y="503.9" font-size="8.1" text-anchor="middle" textLength="5.9" lengthAdjust="spacingAndGlyphs">10</text>
<text x="485.96" y="503.9" font-size="8.1" text-anchor="middle" textLength="5.9" lengthAdjust="spacingAndGlyphs">10</text>
<text x="496.64" y="503.9" font-size="8.1" text-anchor="middle" textLength="5.9" lengthAdjust="spacingAndGlyphs">50</text>
<text x="507.32" y="503.9" font-size="8.1" text-anchor="middle" textLength="5.9" lengthAdjust="spacingAndGlyphs">50</text>
<text x="346.8" y="514.2" font-size="7.4" text-anchor="end" textLength="46.2" lengthAdjust="spacingAndGlyphs">GSK525762 (µM)</text>
<line x1="367.38" y1="509.7" x2="369.58" y2="509.7" stroke="#555" stroke-width="0.9"/>
<line x1="378.06" y1="509.7" x2="380.26" y2="509.7" stroke="#555" stroke-width="0.9"/>
<line x1="388.74" y1="509.7" x2="390.94" y2="509.7" stroke="#555" stroke-width="0.9"/>
<line x1="399.42" y1="509.7" x2="401.62" y2="509.7" stroke="#555" stroke-width="0.9"/>
<line x1="410.1" y1="509.7" x2="412.3" y2="509.7" stroke="#555" stroke-width="0.9"/>
<text x="421.88" y="513.1" font-size="8.1" text-anchor="middle" textLength="11" lengthAdjust="spacingAndGlyphs">0.05</text>
<text x="432.56" y="513.1" font-size="8.1" text-anchor="middle" textLength="7.6" lengthAdjust="spacingAndGlyphs">0.2</text>
<text x="443.24" y="513.1" font-size="8.1" text-anchor="middle" textLength="7.6" lengthAdjust="spacingAndGlyphs">0.5</text>
<text x="453.92" y="513.1" font-size="8.1" text-anchor="middle" textLength="2.8" lengthAdjust="spacingAndGlyphs">1</text>
<text x="464.6" y="513.1" font-size="8.1" text-anchor="middle" textLength="7.6" lengthAdjust="spacingAndGlyphs">1.5</text>
<text x="475.28" y="513.1" font-size="8.1" text-anchor="middle" textLength="7.6" lengthAdjust="spacingAndGlyphs">0.2</text>
<text x="485.96" y="513.1" font-size="8.1" text-anchor="middle" textLength="7.6" lengthAdjust="spacingAndGlyphs">0.5</text>
<text x="496.64" y="513.1" font-size="8.1" text-anchor="middle" textLength="7.6" lengthAdjust="spacingAndGlyphs">0.2</text>
<text x="507.32" y="513.1" font-size="8.1" text-anchor="middle" textLength="7.6" lengthAdjust="spacingAndGlyphs">0.5</text>
<text x="346.8" y="523.4" font-size="7.4" text-anchor="end" textLength="49.8" lengthAdjust="spacingAndGlyphs">Combination index</text>
<text x="475.28" y="521.2" font-size="8.1" text-anchor="middle" textLength="7.6" lengthAdjust="spacingAndGlyphs">0.2</text>
<text x="485.96" y="521.2" font-size="8.1" text-anchor="middle" textLength="7.6" lengthAdjust="spacingAndGlyphs">0.1</text>
<text x="496.64" y="521.2" font-size="8.1" text-anchor="middle" textLength="7.6" lengthAdjust="spacingAndGlyphs">0.2</text>
<text x="507.32" y="521.2" font-size="8.1" text-anchor="middle" textLength="7.6" lengthAdjust="spacingAndGlyphs">0.1</text>
<line x1="51" y1="348.2" x2="51" y2="412.9" stroke="#2a2a2a" stroke-width="1.5"/>
<line x1="47.5" y1="412.3" x2="93.4" y2="412.3" stroke="#2a2a2a" stroke-width="1.5"/>
<line x1="47.5" y1="412.3" x2="51" y2="412.3" stroke="#1a1a1a" stroke-width="0.9"/>
<text x="45" y="415.2" font-size="8.1" text-anchor="end" textLength="4" lengthAdjust="spacingAndGlyphs">0</text>
<line x1="47.5" y1="391.07" x2="51" y2="391.07" stroke="#1a1a1a" stroke-width="0.9"/>
<text x="45" y="393.97" font-size="8.1" text-anchor="end" textLength="8.5" lengthAdjust="spacingAndGlyphs">40</text>
<line x1="47.5" y1="369.83" x2="51" y2="369.83" stroke="#1a1a1a" stroke-width="0.9"/>
<text x="45" y="372.73" font-size="8.1" text-anchor="end" textLength="8.5" lengthAdjust="spacingAndGlyphs">80</text>
<line x1="47.5" y1="348.6" x2="51" y2="348.6" stroke="#1a1a1a" stroke-width="0.9"/>
<text x="45" y="351.5" font-size="8.1" text-anchor="end" textLength="12.6" lengthAdjust="spacingAndGlyphs">120</text>
<text x="26.2" y="380.95" font-size="8.8" text-anchor="middle" textLength="62" lengthAdjust="spacingAndGlyphs" transform="rotate(-90 26.2 380.95)">% of Lin-cKit+ cells</text>
<rect x="54.55" y="362.2" width="14.1" height="50.1" fill="#c8102e"/>
<line x1="61.5" y1="362.2" x2="61.5" y2="360.3" stroke="#111" stroke-width="1"/>
<line x1="58" y1="360.3" x2="65" y2="360.3" stroke="#111" stroke-width="1.2"/>
<rect x="76.05" y="390.3" width="14.1" height="22" fill="#1a5690"/>
<line x1="82.5" y1="390.3" x2="82.5" y2="389.1" stroke="#111" stroke-width="1"/>
<line x1="79" y1="389.1" x2="86" y2="389.1" stroke="#111" stroke-width="1.2"/>
<line x1="61.6" y1="412.3" x2="61.6" y2="415.3" stroke="#1a1a1a" stroke-width="0.9"/>
<line x1="83.1" y1="412.3" x2="83.1" y2="415.3" stroke="#1a1a1a" stroke-width="0.9"/>
<circle cx="81.3" cy="385.8" r="1" fill="#2a2a2a"/>
<circle cx="84.9" cy="385.8" r="1" fill="#2a2a2a"/>
<text x="59.6" y="345.3" font-size="8.8" textLength="24.3" lengthAdjust="spacingAndGlyphs">PD-L1</text>
<text x="61.6" y="424.2" font-size="7.4" text-anchor="middle" textLength="17.5" lengthAdjust="spacingAndGlyphs">DMSO</text>
<text x="83.5" y="424.2" font-size="7.4" text-anchor="middle" textLength="20.2" lengthAdjust="spacingAndGlyphs">Combo</text>
<text x="54.9" y="332.5" font-size="6.6" textLength="13.4" lengthAdjust="spacingAndGlyphs">n=3</text>
<line x1="137.5" y1="348.2" x2="137.5" y2="412.8" stroke="#2a2a2a" stroke-width="1.5"/>
<line x1="134" y1="412.2" x2="179.6" y2="412.2" stroke="#2a2a2a" stroke-width="1.5"/>
<line x1="134" y1="412.2" x2="137.5" y2="412.2" stroke="#1a1a1a" stroke-width="0.9"/>
<text x="131.5" y="415.1" font-size="8.1" text-anchor="end" textLength="4" lengthAdjust="spacingAndGlyphs">0</text>
<line x1="134" y1="396.3" x2="137.5" y2="396.3" stroke="#1a1a1a" stroke-width="0.9"/>
<text x="131.5" y="399.2" font-size="8.1" text-anchor="end" textLength="4" lengthAdjust="spacingAndGlyphs">5</text>
<line x1="134" y1="380.4" x2="137.5" y2="380.4" stroke="#1a1a1a" stroke-width="0.9"/>
<text x="131.5" y="383.3" font-size="8.1" text-anchor="end" textLength="8.5" lengthAdjust="spacingAndGlyphs">10</text>
<line x1="134" y1="364.5" x2="137.5" y2="364.5" stroke="#1a1a1a" stroke-width="0.9"/>
<text x="131.5" y="367.4" font-size="8.1" text-anchor="end" textLength="8.5" lengthAdjust="spacingAndGlyphs">15</text>
<line x1="134" y1="348.6" x2="137.5" y2="348.6" stroke="#1a1a1a" stroke-width="0.9"/>
<text x="131.5" y="351.5" font-size="8.1" text-anchor="end" textLength="8.5" lengthAdjust="spacingAndGlyphs">20</text>
<text x="115.5" y="380.9" font-size="8.8" text-anchor="middle" textLength="62" lengthAdjust="spacingAndGlyphs" transform="rotate(-90 115.5 380.9)">% of Lin-cKit+ cells</text>
<rect x="141.25" y="366.1" width="14.1" height="46.1" fill="#c8102e"/>
<line x1="148.5" y1="366.1" x2="148.5" y2="357" stroke="#111" stroke-width="1"/>
<line x1="145" y1="357" x2="152" y2="357" stroke="#111" stroke-width="1.2"/>
<rect x="162.05" y="408.6" width="14.1" height="3.6" fill="#1a5690"/>
<line x1="168.5" y1="408.6" x2="168.5" y2="406" stroke="#111" stroke-width="1"/>
<line x1="165" y1="406" x2="172" y2="406" stroke="#111" stroke-width="1.2"/>
<line x1="148.3" y1="412.2" x2="148.3" y2="415.2" stroke="#1a1a1a" stroke-width="0.9"/>
<line x1="169.1" y1="412.2" x2="169.1" y2="415.2" stroke="#1a1a1a" stroke-width="0.9"/>
<circle cx="169.1" cy="402.2" r="1" fill="#2a2a2a"/>
<text x="146" y="345.2" font-size="8.8" textLength="25.1" lengthAdjust="spacingAndGlyphs">PD-L2</text>
<text x="148.3" y="423.9" font-size="7.4" text-anchor="middle" textLength="17.5" lengthAdjust="spacingAndGlyphs">DMSO</text>
<text x="169.5" y="423.9" font-size="7.4" text-anchor="middle" textLength="20.2" lengthAdjust="spacingAndGlyphs">Combo</text>
<line x1="218.6" y1="348.2" x2="218.6" y2="412.8" stroke="#2a2a2a" stroke-width="1.5"/>
<line x1="215.1" y1="412.2" x2="261.7" y2="412.2" stroke="#2a2a2a" stroke-width="1.5"/>
<line x1="215.1" y1="412.2" x2="218.6" y2="412.2" stroke="#1a1a1a" stroke-width="0.9"/>
<text x="212.6" y="415.1" font-size="8.1" text-anchor="end" textLength="4" lengthAdjust="spacingAndGlyphs">0</text>
<line x1="215.1" y1="396.3" x2="218.6" y2="396.3" stroke="#1a1a1a" stroke-width="0.9"/>
<text x="212.6" y="399.2" font-size="8.1" text-anchor="end" textLength="4" lengthAdjust="spacingAndGlyphs">1</text>
<line x1="215.1" y1="380.4" x2="218.6" y2="380.4" stroke="#1a1a1a" stroke-width="0.9"/>
<text x="212.6" y="383.3" font-size="8.1" text-anchor="end" textLength="4" lengthAdjust="spacingAndGlyphs">2</text>
<line x1="215.1" y1="364.5" x2="218.6" y2="364.5" stroke="#1a1a1a" stroke-width="0.9"/>
<text x="212.6" y="367.4" font-size="8.1" text-anchor="end" textLength="4" lengthAdjust="spacingAndGlyphs">3</text>
<line x1="215.1" y1="348.6" x2="218.6" y2="348.6" stroke="#1a1a1a" stroke-width="0.9"/>
<text x="212.6" y="351.5" font-size="8.1" text-anchor="end" textLength="4" lengthAdjust="spacingAndGlyphs">4</text>
<text x="202.9" y="380.9" font-size="8.8" text-anchor="middle" textLength="62" lengthAdjust="spacingAndGlyphs" transform="rotate(-90 202.9 380.9)">% of Lin-cKit+ cells</text>
<rect x="222.45" y="370.5" width="14.1" height="41.7" fill="#c8102e"/>
<line x1="229.5" y1="370.5" x2="229.5" y2="361.6" stroke="#111" stroke-width="1"/>
<line x1="226" y1="361.6" x2="233" y2="361.6" stroke="#111" stroke-width="1.2"/>
<rect x="243.95" y="388.2" width="14.1" height="24" fill="#1a5690"/>
<line x1="250.5" y1="388.2" x2="250.5" y2="378" stroke="#111" stroke-width="1"/>
<line x1="247" y1="378" x2="254" y2="378" stroke="#111" stroke-width="1.2"/>
<line x1="229.5" y1="412.2" x2="229.5" y2="415.2" stroke="#1a1a1a" stroke-width="0.9"/>
<line x1="251" y1="412.2" x2="251" y2="415.2" stroke="#1a1a1a" stroke-width="0.9"/>
<text x="225.5" y="345.2" font-size="8.8" textLength="29.1" lengthAdjust="spacingAndGlyphs">CD155</text>
<text x="229.5" y="423.9" font-size="7.4" text-anchor="middle" textLength="17.5" lengthAdjust="spacingAndGlyphs">DMSO</text>
<text x="251.4" y="423.9" font-size="7.4" text-anchor="middle" textLength="20.2" lengthAdjust="spacingAndGlyphs">Combo</text>
<line x1="96" y1="446.7" x2="96" y2="511.8" stroke="#2a2a2a" stroke-width="1.5"/>
<line x1="92.5" y1="511.2" x2="138.1" y2="511.2" stroke="#2a2a2a" stroke-width="1.5"/>
<line x1="92.5" y1="511.2" x2="96" y2="511.2" stroke="#1a1a1a" stroke-width="0.9"/>
<text x="90" y="514.1" font-size="8.1" text-anchor="end" textLength="4" lengthAdjust="spacingAndGlyphs">0</text>
<line x1="92.5" y1="498.38" x2="96" y2="498.38" stroke="#1a1a1a" stroke-width="0.9"/>
<text x="90" y="501.28" font-size="8.1" text-anchor="end" textLength="8.5" lengthAdjust="spacingAndGlyphs">20</text>
<line x1="92.5" y1="485.56" x2="96" y2="485.56" stroke="#1a1a1a" stroke-width="0.9"/>
<text x="90" y="488.46" font-size="8.1" text-anchor="end" textLength="8.5" lengthAdjust="spacingAndGlyphs">40</text>
<line x1="92.5" y1="472.74" x2="96" y2="472.74" stroke="#1a1a1a" stroke-width="0.9"/>
<text x="90" y="475.64" font-size="8.1" text-anchor="end" textLength="8.5" lengthAdjust="spacingAndGlyphs">60</text>
<line x1="92.5" y1="459.92" x2="96" y2="459.92" stroke="#1a1a1a" stroke-width="0.9"/>
<text x="90" y="462.82" font-size="8.1" text-anchor="end" textLength="8.5" lengthAdjust="spacingAndGlyphs">80</text>
<line x1="92.5" y1="447.1" x2="96" y2="447.1" stroke="#1a1a1a" stroke-width="0.9"/>
<text x="90" y="450" font-size="8.1" text-anchor="end" textLength="12.6" lengthAdjust="spacingAndGlyphs">100</text>
<text x="71" y="479.65" font-size="8.8" text-anchor="middle" textLength="62" lengthAdjust="spacingAndGlyphs" transform="rotate(-90 71 479.65)">% of Lin-cKit+ cells</text>
<rect x="99.75" y="465.6" width="14.1" height="45.6" fill="#c8102e"/>
<line x1="106.5" y1="465.6" x2="106.5" y2="460.8" stroke="#111" stroke-width="1"/>
<line x1="103" y1="460.8" x2="110" y2="460.8" stroke="#111" stroke-width="1.2"/>
<rect x="120.85" y="497.3" width="14.1" height="13.9" fill="#1a5690"/>
<line x1="127.5" y1="497.3" x2="127.5" y2="494.4" stroke="#111" stroke-width="1"/>
<line x1="124" y1="494.4" x2="131" y2="494.4" stroke="#111" stroke-width="1.2"/>
<line x1="106.8" y1="511.2" x2="106.8" y2="514.2" stroke="#1a1a1a" stroke-width="0.9"/>
<line x1="127.9" y1="511.2" x2="127.9" y2="514.2" stroke="#1a1a1a" stroke-width="0.9"/>
<circle cx="127.9" cy="490.8" r="1" fill="#2a2a2a"/>
<text x="105.4" y="443.9" font-size="8.8" textLength="23.6" lengthAdjust="spacingAndGlyphs">CD86</text>
<text x="106.8" y="523.3" font-size="7.4" text-anchor="middle" textLength="17.5" lengthAdjust="spacingAndGlyphs">DMSO</text>
<text x="128.3" y="523.3" font-size="7.4" text-anchor="middle" textLength="20.2" lengthAdjust="spacingAndGlyphs">Combo</text>
<line x1="182.5" y1="446.7" x2="182.5" y2="511.8" stroke="#2a2a2a" stroke-width="1.5"/>
<line x1="179" y1="511.2" x2="224.8" y2="511.2" stroke="#2a2a2a" stroke-width="1.5"/>
<line x1="179" y1="511.2" x2="182.5" y2="511.2" stroke="#1a1a1a" stroke-width="0.9"/>
<text x="176.5" y="514.1" font-size="8.1" text-anchor="end" textLength="4" lengthAdjust="spacingAndGlyphs">0</text>
<line x1="179" y1="498.38" x2="182.5" y2="498.38" stroke="#1a1a1a" stroke-width="0.9"/>
<text x="176.5" y="501.28" font-size="8.1" text-anchor="end" textLength="8.5" lengthAdjust="spacingAndGlyphs">20</text>
<line x1="179" y1="485.56" x2="182.5" y2="485.56" stroke="#1a1a1a" stroke-width="0.9"/>
<text x="176.5" y="488.46" font-size="8.1" text-anchor="end" textLength="8.5" lengthAdjust="spacingAndGlyphs">40</text>
<line x1="179" y1="472.74" x2="182.5" y2="472.74" stroke="#1a1a1a" stroke-width="0.9"/>
<text x="176.5" y="475.64" font-size="8.1" text-anchor="end" textLength="8.5" lengthAdjust="spacingAndGlyphs">60</text>
<line x1="179" y1="459.92" x2="182.5" y2="459.92" stroke="#1a1a1a" stroke-width="0.9"/>
<text x="176.5" y="462.82" font-size="8.1" text-anchor="end" textLength="8.5" lengthAdjust="spacingAndGlyphs">80</text>
<line x1="179" y1="447.1" x2="182.5" y2="447.1" stroke="#1a1a1a" stroke-width="0.9"/>
<text x="176.5" y="450" font-size="8.1" text-anchor="end" textLength="12.6" lengthAdjust="spacingAndGlyphs">100</text>
<text x="157.2" y="479.65" font-size="8.8" text-anchor="middle" textLength="62" lengthAdjust="spacingAndGlyphs" transform="rotate(-90 157.2 479.65)">% of Lin-cKit+ cells</text>
<rect x="186.35" y="469.4" width="14.1" height="41.8" fill="#c8102e"/>
<line x1="193.5" y1="469.4" x2="193.5" y2="465.2" stroke="#111" stroke-width="1"/>
<line x1="190" y1="465.2" x2="197" y2="465.2" stroke="#111" stroke-width="1.2"/>
<rect x="207.65" y="501.7" width="14.1" height="9.5" fill="#1a5690"/>
<line x1="214.5" y1="501.7" x2="214.5" y2="499.2" stroke="#111" stroke-width="1"/>
<line x1="211" y1="499.2" x2="218" y2="499.2" stroke="#111" stroke-width="1.2"/>
<line x1="193.4" y1="511.2" x2="193.4" y2="514.2" stroke="#1a1a1a" stroke-width="0.9"/>
<line x1="214.7" y1="511.2" x2="214.7" y2="514.2" stroke="#1a1a1a" stroke-width="0.9"/>
<circle cx="214.7" cy="495.6" r="1" fill="#2a2a2a"/>
<text x="192.1" y="443.9" font-size="8.8" textLength="23.7" lengthAdjust="spacingAndGlyphs">CD80</text>
<text x="193.4" y="523.3" font-size="7.4" text-anchor="middle" textLength="17.5" lengthAdjust="spacingAndGlyphs">DMSO</text>
<text x="215.1" y="523.3" font-size="7.4" text-anchor="middle" textLength="20.2" lengthAdjust="spacingAndGlyphs">Combo</text>
<rect x="0.5" y="0.5" width="519" height="530" fill="none" stroke="#000" stroke-width="1"/>
</svg></body></html>
